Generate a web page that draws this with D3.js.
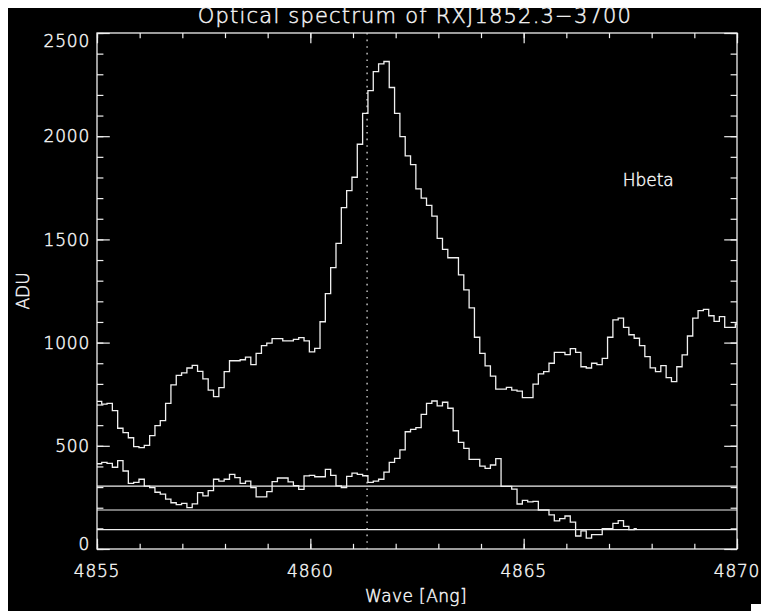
<!DOCTYPE html>
<html>
<head>
<meta charset="utf-8">
<script src="https://cdn.jsdelivr.net/npm/d3@7/dist/d3.min.js"></script>
<style>
  html, body { margin: 0; padding: 0; background: #fff; }
  svg { display: block; }
  text {
    font-family: "DejaVu Sans", "Liberation Sans", sans-serif;
    font-weight: 200;
    fill: #f4f4f4;
    stroke: #f4f4f4;
    stroke-width: 0.45px;
  }
</style>
</head>
<body>
<svg id="chart" width="761" height="611"></svg>
<script>
// Spectrum sampling: centre wavelength of the first bin and the bin width [Ang]
const waveStart = 4854.923;
const waveStep = 0.1248;

// Upper spectrum, ADU per bin
const fluxUpper = [
  715, 715, 702, 706, 670, 585, 564, 539, 496, 491, 502,
  549, 598, 622, 706, 795, 841, 853, 877, 890, 861,
  824, 770, 738, 782, 859, 912, 912, 917, 930, 893,
  948, 985, 997, 1019, 1019, 1008, 1008, 1016, 1024, 1008,
  955, 972, 1101, 1237, 1363, 1481, 1654, 1736, 1801, 1961,
  2111, 2221, 2313, 2350, 2362, 2236, 2111, 1998, 1905, 1862,
  1745, 1700, 1665, 1613, 1505, 1452, 1411, 1411, 1328, 1255,
  1168, 1026, 948, 887, 838, 775, 775, 783, 770, 765,
  733, 733, 799, 848, 859, 900, 953, 953, 942, 971,
  953, 883, 877, 900, 893, 924, 1026, 1110, 1119, 1074,
  1038, 1021, 985, 932, 878, 859, 888, 830, 811, 883,
  941, 1032, 1119, 1155, 1161, 1130, 1103, 1126, 1074, 1074,
  1090
];

// Lower spectrum, ADU per bin
const fluxLower = [
  413, 413, 420, 415, 396, 428, 378, 318, 323, 338, 305,
  297, 275, 266, 242, 224, 215, 221, 200, 219, 273,
  257, 283, 338, 329, 338, 362, 346, 318, 329, 297,
  253, 253, 278, 326, 344, 344, 325, 307, 289, 354,
  357, 350, 350, 386, 357, 306, 298, 352, 368, 362,
  355, 323, 329, 338, 372, 420, 439, 480, 568, 580,
  588, 652, 706, 717, 693, 711, 682, 573, 517, 488,
  434, 434, 402, 391, 407, 438, 303, 303, 290, 218,
  236, 228, 231, 189, 189, 165, 136, 147, 160, 130,
  63, 88, 53, 70, 70, 99, 98, 124, 137, 110,
  94, 99
];

// Horizontal reference levels [ADU]
const levels = [305, 189, 94];

// Rest wavelength of H-beta [Ang]
const hbetaWave = 4861.33;

const xMajor = [4855, 4860, 4865, 4870];
const yMajor = [0, 500, 1000, 1500, 2000, 2500];
const xMinor = d3.range(4855, 4870.001, 1);
const yMinor = d3.range(0, 2500.001, 100);

const titleText = "Optical spectrum of RXJ1852.3\u22123700";
const xTitle = "Wave [Ang]";
const yTitle = "ADU";
const lineLabel = "Hbeta";

const svg = d3.select("#chart");
const W = 761, H = 611;
const ink = "#f0f0f0";

// page background with the dark plot window
svg.append("rect").attr("x", 0).attr("y", 0).attr("width", W).attr("height", H).attr("fill", "#fff");
svg.append("rect").attr("x", 8).attr("y", 8).attr("width", W - 8).attr("height", H - 8).attr("fill", "#000");
svg.append("rect").attr("x", 751).attr("y", 604).attr("width", 10).attr("height", 7).attr("fill", "#fff");

const plot = { left: 97, right: 737, top: 33, bottom: 549 };
const x = d3.scaleLinear().domain([4855, 4870]).range([plot.left, plot.right]);
const y = d3.scaleLinear().domain([0, 2500]).range([plot.bottom, plot.top]);

svg.append("clipPath").attr("id", "plotClip")
  .append("rect")
  .attr("x", plot.left).attr("y", plot.top)
  .attr("width", plot.right - plot.left).attr("height", plot.bottom - plot.top);

const tickLenX = 10.3, tickLenY = 12.8;

function axisGroup(axis, tx, ty) {
  const g = svg.append("g").attr("transform", `translate(${tx},${ty})`).call(axis);
  g.select(".domain").remove();
  g.selectAll("line").attr("stroke", ink).attr("stroke-width", 1.2);
  g.selectAll("text").remove();
  return g;
}

// ticks on all four sides, pointing inward
axisGroup(d3.axisBottom(x).tickValues(xMinor).tickSize(-tickLenX / 2).tickFormat(""), 0, plot.bottom);
axisGroup(d3.axisBottom(x).tickValues(xMajor).tickSize(-tickLenX).tickFormat(""), 0, plot.bottom);
axisGroup(d3.axisTop(x).tickValues(xMinor).tickSize(-tickLenX / 2).tickFormat(""), 0, plot.top);
axisGroup(d3.axisTop(x).tickValues(xMajor).tickSize(-tickLenX).tickFormat(""), 0, plot.top);
axisGroup(d3.axisLeft(y).tickValues(yMinor).tickSize(-tickLenY / 2).tickFormat(""), plot.left, 0);
axisGroup(d3.axisLeft(y).tickValues(yMajor).tickSize(-tickLenY).tickFormat(""), plot.left, 0);
axisGroup(d3.axisRight(y).tickValues(yMinor).tickSize(-tickLenY / 2).tickFormat(""), plot.right, 0);
axisGroup(d3.axisRight(y).tickValues(yMajor).tickSize(-tickLenY).tickFormat(""), plot.right, 0);

// frame
svg.append("rect")
  .attr("x", plot.left).attr("y", plot.top)
  .attr("width", plot.right - plot.left).attr("height", plot.bottom - plot.top)
  .attr("fill", "none").attr("stroke", ink).attr("stroke-width", 1.3);

// tick labels
const fs = 17;
svg.append("g").selectAll("text").data(xMajor).join("text")
  .attr("x", d => x(d)).attr("y", 577)
  .attr("text-anchor", "middle").attr("font-size", fs)
  .attr("letter-spacing", 0.8)
  .text(d => d);

svg.append("g").selectAll("text").data(yMajor).join("text")
  .attr("x", 90)
  .attr("y", d => Math.max(plot.top + 7.5, Math.min(plot.bottom - 5, y(d))) + 0.365 * fs)
  .attr("text-anchor", "end").attr("font-size", fs)
  .attr("letter-spacing", 0.8)
  .text(d => d);

// titles
svg.append("text").attr("x", 415).attr("y", 23)
  .attr("text-anchor", "middle").attr("font-size", 21)
  .attr("letter-spacing", 1.2).text(titleText);
svg.append("text").attr("x", 416).attr("y", 602)
  .attr("text-anchor", "middle").attr("font-size", fs)
  .attr("letter-spacing", 0.4).text(xTitle);
svg.append("text")
  .attr("transform", `translate(29,${(plot.top + plot.bottom) / 2}) rotate(-90)`)
  .attr("text-anchor", "middle").attr("font-size", fs).text(yTitle);

const gData = svg.append("g").attr("clip-path", "url(#plotClip)");

// horizontal reference levels
gData.selectAll("line.level").data(levels).join("line")
  .attr("class", "level")
  .attr("x1", plot.left).attr("x2", plot.right)
  .attr("y1", d => y(d)).attr("y2", d => y(d))
  .attr("stroke", ink).attr("stroke-width", 1.2);

// H-beta rest wavelength, dotted
gData.append("line")
  .attr("x1", x(hbetaWave)).attr("x2", x(hbetaWave))
  .attr("y1", plot.top).attr("y2", plot.bottom)
  .attr("stroke", "#d8d8d8").attr("stroke-width", 1.3)
  .attr("stroke-dasharray", "1.6,5");

// histogram-style spectra
const step = d3.line()
  .x((d, i) => x(waveStart + i * waveStep))
  .y(d => y(d))
  .curve(d3.curveStep);

[fluxUpper, fluxLower].forEach(series => {
  gData.append("path")
    .attr("d", step(series))
    .attr("fill", "none")
    .attr("stroke", ink)
    .attr("stroke-width", 1.3)
    .attr("stroke-linejoin", "miter");
});

// line identification
svg.append("text").attr("x", x(4867.32)).attr("y", y(1760))
  .attr("font-size", fs).text(lineLabel);
</script>
</body>
</html>
